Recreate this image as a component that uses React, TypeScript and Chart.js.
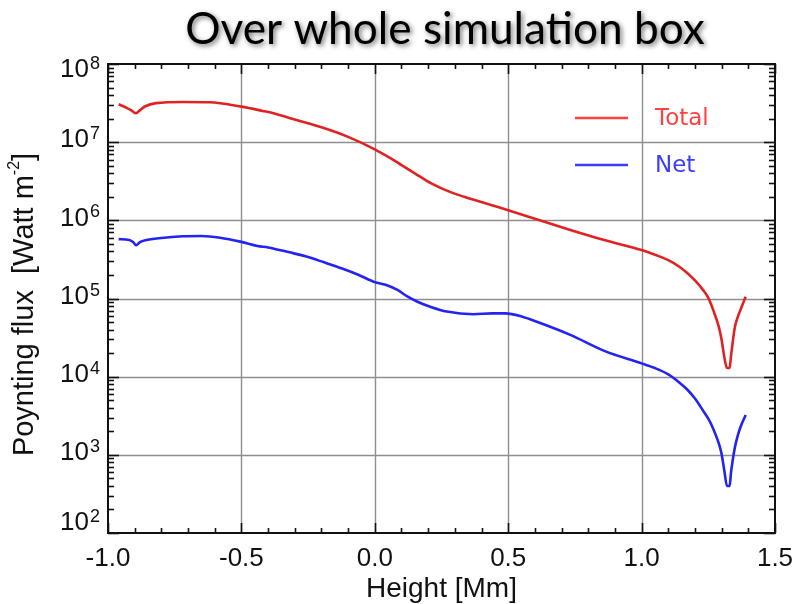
import { useEffect, useRef } from "react";
import { Chart, registerables } from "chart.js";

Chart.register(...registerables);

// Height samples (Mm) and Poynting flux (W m^-2) for the two curves
const TOTAL_H = [-0.96, -0.93, -0.91, -0.895, -0.88, -0.86, -0.82, -0.72, -0.62, -0.5, -0.42, -0.38, -0.3, -0.2, -0.1, 0, 0.06, 0.1, 0.15, 0.21, 0.27, 0.335, 0.436, 0.5, 0.6, 0.73, 0.86, 1.0, 1.05, 1.1, 1.14, 1.17, 1.2, 1.23, 1.25, 1.27, 1.29, 1.3, 1.31, 1.32, 1.33, 1.335, 1.34, 1.35, 1.36, 1.37, 1.39];
const TOTAL_FLUX = [3.05e7, 2.75e7, 2.51e7, 2.34e7, 2.57e7, 2.88e7, 3.16e7, 3.27e7, 3.24e7, 2.85e7, 2.51e7, 2.34e7, 1.95e7, 1.55e7, 1.17e7, 8.1e6, 6.2e6, 5.1e6, 4.0e6, 2.99e6, 2.4e6, 2.0e6, 1.57e6, 1.35e6, 1.05e6, 7.6e5, 5.6e5, 4.17e5, 3.63e5, 3.09e5, 2.57e5, 2.14e5, 1.7e5, 1.29e5, 1.02e5, 6.9e4, 4.27e4, 2.95e4, 1.78e4, 1.29e4, 1.29e4, 1.82e4, 2.51e4, 4.37e4, 5.75e4, 7.08e4, 1.05e5];

const NET_H = [-0.96, -0.92, -0.905, -0.895, -0.88, -0.86, -0.8, -0.72, -0.65, -0.58, -0.5, -0.44, -0.4, -0.32, -0.26, -0.19, -0.12, -0.06, 0, 0.04, 0.085, 0.12, 0.16, 0.21, 0.27, 0.37, 0.44, 0.49, 0.55, 0.61, 0.735, 0.86, 1.0, 1.05, 1.1, 1.14, 1.17, 1.2, 1.23, 1.25, 1.27, 1.29, 1.3, 1.31, 1.32, 1.33, 1.335, 1.34, 1.35, 1.36, 1.37, 1.39];
const NET_FLUX = [5.75e5, 5.6e5, 5.25e5, 4.8e5, 5.25e5, 5.55e5, 5.95e5, 6.25e5, 6.3e5, 6.0e5, 5.3e5, 4.7e5, 4.5e5, 3.9e5, 3.47e5, 2.9e5, 2.4e5, 2.0e5, 1.62e5, 1.5e5, 1.29e5, 1.07e5, 9.1e4, 7.8e4, 6.8e4, 6.3e4, 6.45e4, 6.45e4, 5.9e4, 5.0e4, 3.4e4, 2.14e4, 1.48e4, 1.29e4, 1.07e4, 8.5e3, 6.9e3, 5.25e3, 3.7e3, 2.9e3, 2.1e3, 1.38e3, 1.02e3, 630, 400, 400, 590, 790, 1.26e3, 1.74e3, 2.24e3, 3.24e3];

const X_TICKS = [-1.0, -0.5, 0.0, 0.5, 1.0, 1.5];
const X_MINOR_STEP = 0.1;
const Y_EXPONENTS = [2, 3, 4, 5, 6, 7, 8];
const Y_MINOR_MANTISSAS = [2, 3, 4, 5, 6, 7, 8, 9];

const TITLE = "Over whole simulation box";
const X_TITLE = "Height [Mm]";
const Y_TITLE_MAIN = "Poynting flux  [Watt m";
const Y_TITLE_SUP = "-2";
const Y_TITLE_END = "]";

const SERIES = [
  { label: "Total", line: "#e02222", legend: "#ff4040", h: TOTAL_H, v: TOTAL_FLUX },
  { label: "Net", line: "#2323f2", legend: "#3c3cff", h: NET_H, v: NET_FLUX },
];

const SANS = '"Liberation Sans", Arial, sans-serif';

const axesPlugin = {
  id: "idlAxes",
  beforeDatasetsDraw(chart: any) {
    const { ctx, chartArea: a, scales } = chart;
    const xs = scales.x;
    const ys = scales.y;
    ctx.save();
    ctx.strokeStyle = "#8e8e8e";
    ctx.lineWidth = 1.4;
    for (const t of X_TICKS) {
      const px = Math.round(xs.getPixelForValue(t)) + 0.5;
      if (px <= a.left + 2 || px >= a.right - 2) continue;
      ctx.beginPath();
      ctx.moveTo(px, a.top);
      ctx.lineTo(px, a.bottom);
      ctx.stroke();
    }
    for (const e of Y_EXPONENTS) {
      const py = Math.round(ys.getPixelForValue(Math.pow(10, e))) + 0.5;
      if (py <= a.top + 2 || py >= a.bottom - 2) continue;
      ctx.beginPath();
      ctx.moveTo(a.left, py);
      ctx.lineTo(a.right, py);
      ctx.stroke();
    }
    ctx.restore();
  },
  afterDatasetsDraw(chart: any) {
    const { ctx, chartArea: a, scales } = chart;
    const xs = scales.x;
    const ys = scales.y;
    ctx.save();
    ctx.strokeStyle = "#111";
    ctx.lineWidth = 1.6;

    // tick marks on all four sides
    const tick = (x1: number, y1: number, x2: number, y2: number) => {
      ctx.beginPath();
      ctx.moveTo(x1, y1);
      ctx.lineTo(x2, y2);
      ctx.stroke();
    };
    const xMin = X_TICKS[0];
    const xMax = X_TICKS[X_TICKS.length - 1];
    const nMinor = Math.round((xMax - xMin) / X_MINOR_STEP);
    for (let i = 0; i <= nMinor; i++) {
      const v = xMin + i * X_MINOR_STEP;
      const px = Math.round(xs.getPixelForValue(v)) + 0.5;
      const major = i % 5 === 0;
      const len = major ? 10 : 5;
      tick(px, a.bottom, px, a.bottom - len);
      tick(px, a.top, px, a.top + len);
    }
    for (const e of Y_EXPONENTS) {
      const py = Math.round(ys.getPixelForValue(Math.pow(10, e))) + 0.5;
      tick(a.left, py, a.left + 11, py);
      tick(a.right, py, a.right - 11, py);
      if (e === Y_EXPONENTS[Y_EXPONENTS.length - 1]) continue;
      for (const m of Y_MINOR_MANTISSAS) {
        const my = Math.round(ys.getPixelForValue(m * Math.pow(10, e))) + 0.5;
        tick(a.left, my, a.left + 6, my);
        tick(a.right, my, a.right - 6, my);
      }
    }

    // frame
    ctx.lineWidth = 2;
    ctx.strokeRect(a.left, a.top, a.right - a.left, a.bottom - a.top);

    // x tick labels
    ctx.fillStyle = "#111";
    ctx.font = `26px ${SANS}`;
    ctx.textAlign = "center";
    ctx.textBaseline = "middle";
    for (const t of X_TICKS) {
      ctx.fillText(t.toFixed(1), xs.getPixelForValue(t), a.bottom + 26);
    }

    // y tick labels: 10 with raised exponent
    for (const e of Y_EXPONENTS) {
      let cy = ys.getPixelForValue(Math.pow(10, e)) - 2;
      cy = Math.max(a.top + 6, Math.min(a.bottom - 10, cy));
      ctx.font = `26px ${SANS}`;
      ctx.textAlign = "right";
      ctx.textBaseline = "middle";
      ctx.fillText("10", a.left - 19, cy);
      ctx.font = `18px ${SANS}`;
      ctx.textAlign = "left";
      ctx.textBaseline = "alphabetic";
      ctx.fillText(String(e), a.left - 18, cy - 1);
    }

    // x axis title
    ctx.font = `28px ${SANS}`;
    ctx.textAlign = "center";
    ctx.textBaseline = "alphabetic";
    ctx.fillText(X_TITLE, (a.left + a.right) / 2, a.bottom + 64);

    // y axis title, rotated, with superscript unit
    ctx.save();
    ctx.translate(33, (a.top + a.bottom) / 2 + 6);
    ctx.rotate(-Math.PI / 2);
    ctx.textAlign = "left";
    ctx.font = `29px ${SANS}`;
    const w1 = ctx.measureText(Y_TITLE_MAIN).width;
    const w3 = ctx.measureText(Y_TITLE_END).width;
    ctx.font = `16px ${SANS}`;
    const w2 = ctx.measureText(Y_TITLE_SUP).width;
    let x0 = -(w1 + w2 + w3) / 2;
    ctx.font = `29px ${SANS}`;
    ctx.fillText(Y_TITLE_MAIN, x0, 0);
    x0 += w1;
    ctx.font = `16px ${SANS}`;
    ctx.fillText(Y_TITLE_SUP, x0, -14);
    x0 += w2;
    ctx.font = `29px ${SANS}`;
    ctx.fillText(Y_TITLE_END, x0, 0);
    ctx.restore();

    // legend
    const legendY = [118, 165];
    SERIES.forEach((s, i) => {
      ctx.strokeStyle = s.legend;
      ctx.lineWidth = 2.5;
      ctx.beginPath();
      ctx.moveTo(575, legendY[i]);
      ctx.lineTo(628, legendY[i]);
      ctx.stroke();
      ctx.fillStyle = s.legend;
      ctx.font = `23px "DejaVu Sans", sans-serif`;
      ctx.textAlign = "left";
      ctx.textBaseline = "middle";
      ctx.fillText(s.label, 655, legendY[i] + 1);
    });

    // page title with soft drop shadow
    ctx.font = `44px Lato, "Open Sans", sans-serif`;
    const tw = ctx.measureText(TITLE).width;
    const size = 44 * (520 / tw);
    ctx.font = `${size.toFixed(1)}px Lato, "Open Sans", sans-serif`;
    ctx.textAlign = "center";
    ctx.textBaseline = "alphabetic";
    ctx.shadowColor = "rgba(0,0,0,0.55)";
    ctx.shadowBlur = 5;
    ctx.shadowOffsetX = 2;
    ctx.shadowOffsetY = 2;
    ctx.fillStyle = "#000";
    ctx.fillText(TITLE, 445, 44);
    ctx.restore();
  },
};

export default function App() {
  const ref = useRef<HTMLCanvasElement>(null);

  useEffect(() => {
    if (!ref.current) return;
    const chart = new Chart(ref.current, {
      type: "line",
      data: {
        datasets: SERIES.map((s) => ({
          label: s.label,
          data: s.h.map((h, i) => ({ x: h, y: s.v[i] })),
          borderColor: s.line,
          borderWidth: 2.6,
          pointRadius: 0,
          fill: false,
          cubicInterpolationMode: "monotone" as const,
        })),
      },
      options: {
        animation: false,
        responsive: false,
        devicePixelRatio: 1,
        layout: { padding: { left: 108, right: 22, top: 64, bottom: 71 } },
        plugins: {
          legend: { display: false },
          tooltip: { enabled: false },
          title: { display: false },
        },
        scales: {
          x: { type: "linear", min: -1, max: 1.5, display: false },
          y: { type: "logarithmic", min: 1e2, max: 1e8, display: false },
        },
      },
      plugins: [axesPlugin],
    });
    return () => chart.destroy();
  }, []);

  return (
    <div style={{ position: "absolute", left: 0, top: 0, width: 797, height: 604, background: "#fff" }}>
      <canvas ref={ref} width={797} height={604} />
    </div>
  );
}
